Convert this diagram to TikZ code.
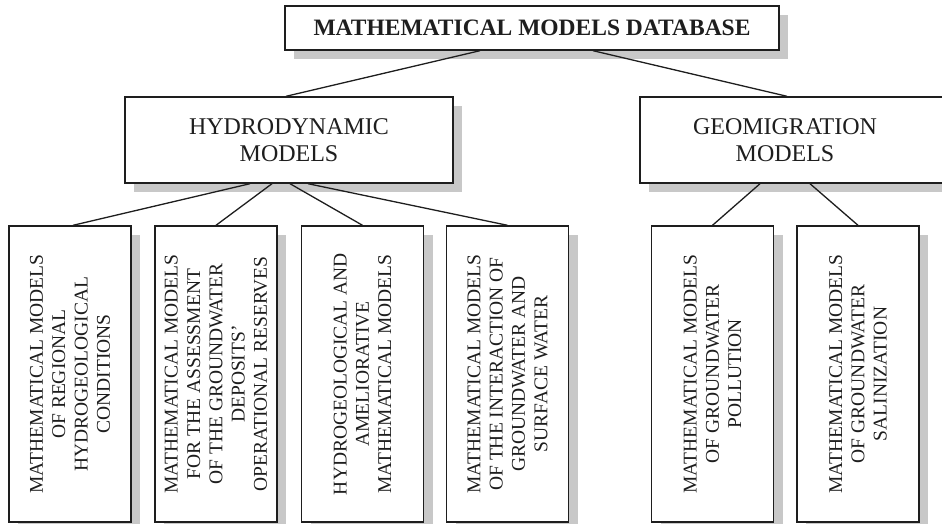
\documentclass[tikz,border=0pt]{standalone}
\usepackage{fontspec}
\setmainfont{Liberation Serif}
\usetikzlibrary{shadows}
\definecolor{shadowgray}{HTML}{C8C8C8}
\definecolor{ink}{HTML}{1E1E1E}
\tikzset{
  boxstyle/.style={draw=ink, line width=1.4pt, fill=white, inner sep=0pt,
    drop shadow={shadow xshift=9pt, shadow yshift=-9pt, fill=shadowgray, opacity=1}},
  toptext/.style={font=\fontsize{23.5}{27}\selectfont\bfseries, text=ink},
  midtext/.style={font=\fontsize{24}{27}\selectfont, text=ink, align=center},
  vtext/.style={font=\fontsize{19.5}{22.3}\selectfont, text=ink, align=center, rotate=90},
  conn/.style={draw=ink, line width=1.3pt}
}
\begin{document}
\begin{tikzpicture}[x=1pt,y=-1pt]
\clip (0,0) rectangle (942,524);
\useasboundingbox (0,0) rectangle (942,524);
% top
\node[boxstyle, minimum width=494pt, minimum height=44pt] (t) at (532,28) {};
\node[toptext] (tt) at (t) {MATHEMATICAL MODELS DATABASE};
% level 2
\node[boxstyle, minimum width=328pt, minimum height=86pt] (h) at (289,140) {};
\node[midtext] (ht) at (h) {HYDRODYNAMIC\\MODELS};
\node[boxstyle, minimum width=310pt, minimum height=86pt] (g) at (795,140) {};
\node[midtext] (gt) at (785,140) {GEOMIGRATION\\MODELS};
% level 3
\node[boxstyle, minimum width=122pt, minimum height=296pt] (b1) at (70,374) {};
\node[vtext] (b1t) at (b1) {MATHEMATICAL MODELS\\OF REGIONAL\\HYDROGEOLOGICAL\\CONDITIONS};
\node[boxstyle, minimum width=122pt, minimum height=296pt] (b2) at (216,374) {};
\node[vtext] (b2t) at (b2) {MATHEMATICAL MODELS\\FOR THE ASSESSMENT\\OF THE GROUNDWATER\\DEPOSITS'\\OPERATIONAL RESERVES};
\node[boxstyle, minimum width=122pt, minimum height=296pt] (b3) at (362.5,374) {};
\node[vtext] (b3t) at (b3) {HYDROGEOLOGICAL AND\\AMELIORATIVE\\MATHEMATICAL MODELS};
\node[boxstyle, minimum width=122pt, minimum height=296pt] (b4) at (507.5,374) {};
\node[vtext] (b4t) at (b4) {MATHEMATICAL MODELS\\OF THE INTERACTION OF\\GROUNDWATER AND\\SURFACE WATER};
\node[boxstyle, minimum width=122pt, minimum height=296pt] (b5) at (712.5,374) {};
\node[vtext] (b5t) at (b5) {MATHEMATICAL MODELS\\OF GROUNDWATER\\POLLUTION};
\node[boxstyle, minimum width=122pt, minimum height=296pt] (b6) at (858,374) {};
\node[vtext] (b6t) at (b6) {MATHEMATICAL MODELS\\OF GROUNDWATER\\SALINIZATION};
% connectors
\draw[conn] ([xshift=-52pt]t.south) -- ([xshift=-3pt]h.north);
\draw[conn] ([xshift=61pt]t.south) -- ([xshift=-8pt]g.north);
\draw[conn] ([xshift=-39pt]h.south) -- ([xshift=3pt]b1.north);
\draw[conn] ([xshift=-17pt]h.south) -- (b2.north);
\draw[conn] ([xshift=1pt]h.south) -- (b3.north);
\draw[conn] ([xshift=19pt]h.south) -- (b4.north);
\draw[conn] ([xshift=-35pt]g.south) -- (b5.north);
\draw[conn] ([xshift=15pt]g.south) -- (b6.north);
\end{tikzpicture}
\end{document}
